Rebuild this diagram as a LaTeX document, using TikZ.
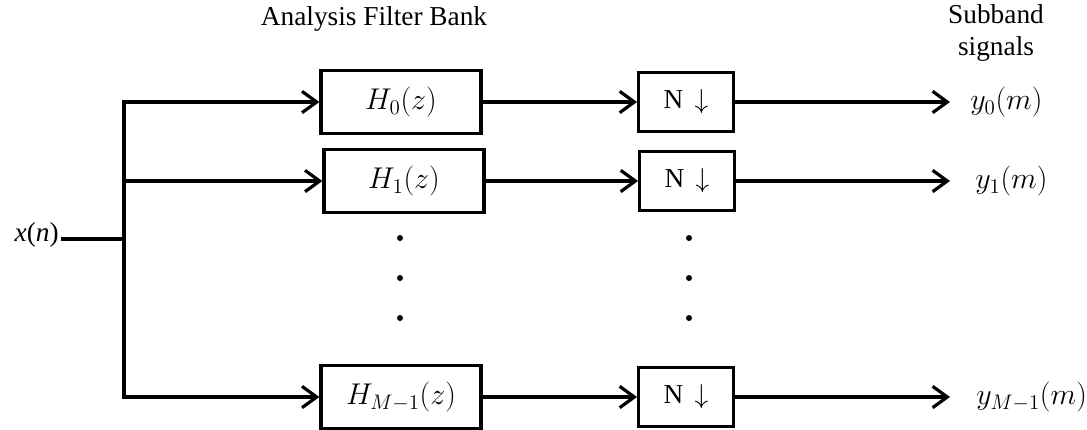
\RequirePackage{fix-cm}
\documentclass[tikz,border=0pt]{standalone}
\usepackage{fontspec}
\setmainfont{Liberation Serif}
\usetikzlibrary{arrows.meta}
\begin{document}
\begin{tikzpicture}[x=0.75pt,y=-0.75pt,
  font=\fontsize{20.5}{24}\selectfont,
  wire/.style={line width=2.4pt},
  flow/.style={wire,-{Straight Barb[length=11pt,width=16pt,line width=2.4pt]}},
  mathtext/.style={font=\fontsize{22.5}{26}\selectfont},
  filterbox/.style={draw,line width=2.4pt,minimum width=120pt,minimum height=47pt,inner sep=0pt,mathtext},
  downbox/.style={draw,line width=2.4pt,minimum width=71pt,minimum height=44pt,inner sep=0pt},
  vdot/.style={circle,fill,inner sep=0pt,minimum size=4.5pt},
  outlabel/.style={anchor=west,inner sep=0pt,mathtext}]
\useasboundingbox (0,0) rectangle (1087,429);

% titles
\node (title) at (374,19) {Analysis Filter Bank};
\node[align=center,font=\fontsize{20.5}{23.5}\selectfont] (sub) at (996,33) {Subband\\signals};

% input and distribution bus
\node[anchor=base east,inner sep=0pt] (x) at (59,241) {\textit{x}(\textit{n})};
\coordinate (xin) at (61,239);
\coordinate (bj) at (124,239);
\coordinate (b0) at (124,102);
\coordinate (b1) at (124,181);
\coordinate (bM) at (124,397);

% filters
\node[filterbox] (H0) at (401,102) {$H_0(z)$};
\node[filterbox] (H1) at (404,181) {$H_1(z)$};
\node[filterbox] (HM) at (401,397) {$H_{M-1}(z)$};

% decimators
\node[downbox] (D0) at (686,102) {N\,\ $\downarrow$};
\node[downbox] (D1) at (687,181) {N\,\ $\downarrow$};
\node[downbox] (DM) at (686,397) {N\,\ $\downarrow$};

% outputs
\coordinate (o0) at (950,102);
\coordinate (o1) at (950,181);
\coordinate (oM) at (950,397);
\node[outlabel] (y0) at (970,102) {$y_0(m)$};
\node[outlabel] (y1) at (975,181) {$y_1(m)$};
\node[outlabel] (yM) at (976,397) {$y_{M-1}(m)$};

% wiring
\draw[wire] (xin) -- (bj);
\draw[wire,line cap=rect] (b0) -- (bM);
\draw[flow] (b0) -- (H0);
\draw[flow] (b1) -- (H1);
\draw[flow] (bM) -- (HM);
\draw[flow] (H0) -- (D0);
\draw[flow] (H1.east) -- (D1.west);
\draw[flow] (HM) -- (DM);
\draw[flow] (D0) -- (o0);
\draw[flow] (D1) -- (o1);
\draw[flow] (DM) -- (oM);

% continuation dots
\foreach \yy [count=\i] in {238,278,318} {
  \node[vdot] (hd\i) at (400,\yy) {};
  \node[vdot] (dd\i) at (689,\yy) {};
}
\end{tikzpicture}
\end{document}
